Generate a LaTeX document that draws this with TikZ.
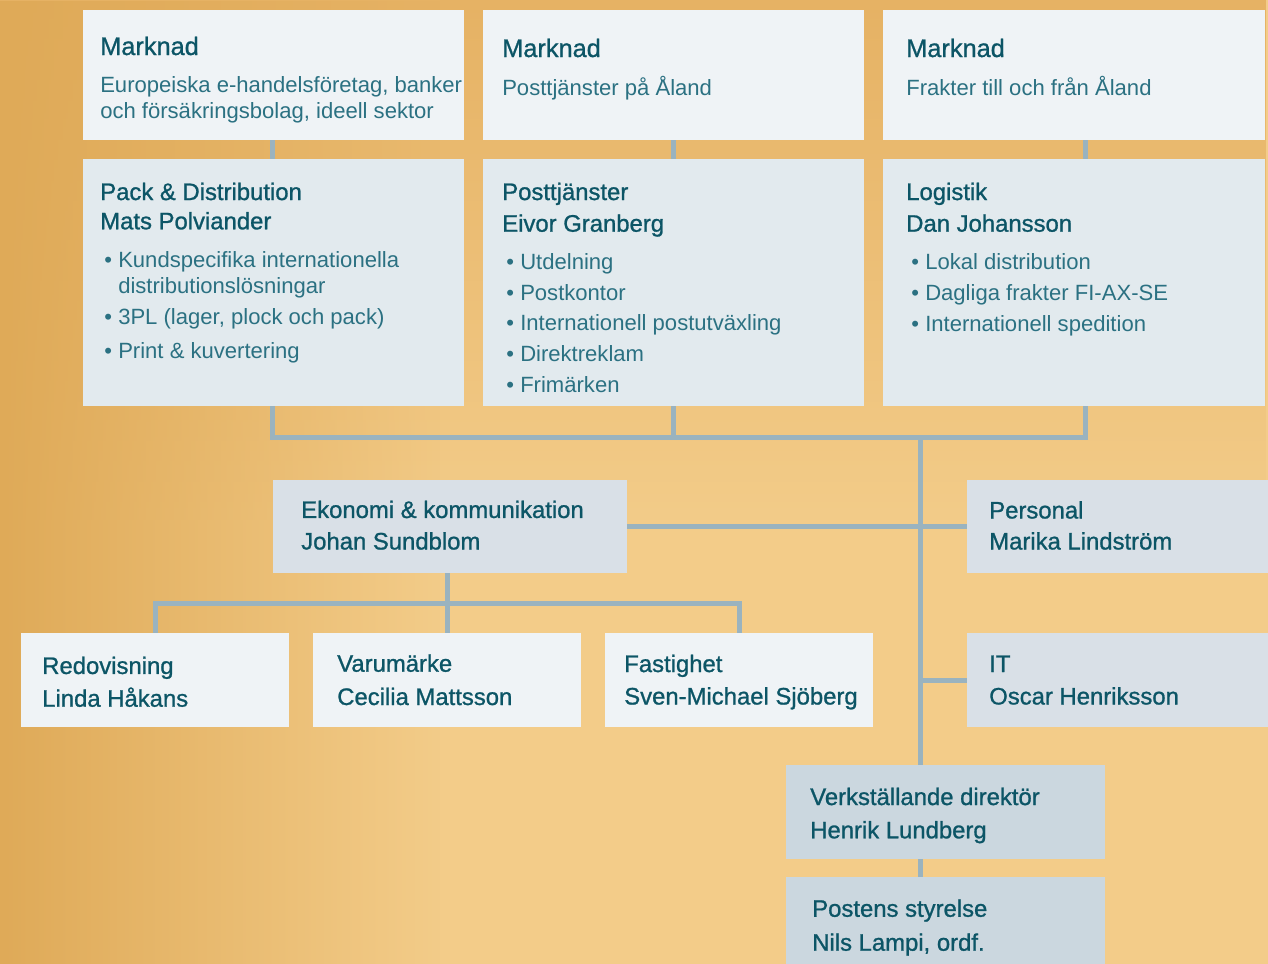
\documentclass[tikz,border=0pt]{standalone}
\usepackage{fontspec}
\usetikzlibrary{fadings}
\setmainfont{Liberation Sans}
\newfontfamily\hfont[FakeBold=1]{Liberation Sans}
\definecolor{bgA}{HTML}{DFAA58}
\definecolor{bgB}{HTML}{F3CC89}
\definecolor{bgT}{HTML}{E6B264}
\definecolor{boxA}{HTML}{EFF3F6}
\definecolor{boxB}{HTML}{E2EAEE}
\definecolor{boxC}{HTML}{D9E0E7}
\definecolor{boxD}{HTML}{CBD7DF}
\definecolor{linec}{HTML}{9AB3BF}
\definecolor{headc}{HTML}{0C5566}
\definecolor{bodyc}{HTML}{2B7182}
\newcommand\bl{\makebox[10.5pt][l]{•}}
\begin{document}
\begin{tikzpicture}[x=0.75pt,y=-0.75pt,
  box/.style={anchor=north west,inner sep=0pt,outer sep=0pt,draw=none},
  conn/.style={draw=linec,line width=3.75pt},
  hd/.style={anchor=base west,inner sep=0pt,align=left,text=headc,font=\hfont\fontsize{17.9pt}{23.25pt}\selectfont},
  hdbig/.style={anchor=base west,inner sep=0pt,align=left,text=headc,font=\hfont\fontsize{19pt}{23pt}\selectfont},
  bd/.style={anchor=base west,inner sep=0pt,align=left,text=bodyc,font=\fontsize{16.55pt}{19.5pt}\selectfont}]
\useasboundingbox (0,0) rectangle (1268,964);
\fill[bgB] (0,0) rectangle (1268,964);
\fill[bgT,path fading=south] (0,0) rectangle (1268,520);
\fill[bgA,path fading=east] (0,0) rectangle (440,964);

% boxes
\node[box,fill=boxA,minimum width=381*0.75pt,minimum height=130*0.75pt] (m1) at (83,10) {};
\node[box,fill=boxA,minimum width=381*0.75pt,minimum height=130*0.75pt] (m2) at (483,10) {};
\node[box,fill=boxA,minimum width=382*0.75pt,minimum height=130*0.75pt] (m3) at (883,10) {};
\node[box,fill=boxB,minimum width=381*0.75pt,minimum height=247*0.75pt] (p1) at (83,159) {};
\node[box,fill=boxB,minimum width=381*0.75pt,minimum height=247*0.75pt] (p2) at (483,159) {};
\node[box,fill=boxB,minimum width=382*0.75pt,minimum height=247*0.75pt] (p3) at (883,159) {};
\node[box,fill=boxC,minimum width=354*0.75pt,minimum height=93*0.75pt] (ek) at (273,480) {};
\node[box,fill=boxC,minimum width=301*0.75pt,minimum height=93*0.75pt] (pe) at (967,480) {};
\node[box,fill=boxA,minimum width=268*0.75pt,minimum height=94*0.75pt] (r1) at (21,633) {};
\node[box,fill=boxA,minimum width=268*0.75pt,minimum height=94*0.75pt] (r2) at (313,633) {};
\node[box,fill=boxA,minimum width=268*0.75pt,minimum height=94*0.75pt] (r3) at (605,633) {};
\node[box,fill=boxC,minimum width=301*0.75pt,minimum height=94*0.75pt] (it) at (967,633) {};
\node[box,fill=boxD,minimum width=319*0.75pt,minimum height=94*0.75pt] (vd) at (786,765) {};
\node[box,fill=boxD,minimum width=319*0.75pt,minimum height=96*0.75pt] (st) at (786,877) {};

% connectors
\coordinate (bR) at (1085,437);
\coordinate (bT) at (920,437);
\coordinate (eb) at (447,603);
\draw[conn] (m1.south -| 272,0) -- (p1.north -| 272,0);
\draw[conn] (m2.south) -- (p2.north);
\draw[conn] (m3.south -| bR) -- (p3.north -| bR);
\draw[conn] (p1.south -| 272,0) |- (bR) -- (bR |- p3.south);
\draw[conn] (p2.south) -- (p2.south |- bR);
\draw[conn] (bT) -- (bT |- vd.north);
\draw[conn] (ek.east) -- (pe.west);
\draw[conn] (bT |- it.west) -- (it.west);
\draw[conn] (vd.south -| bT) -- (st.north -| bT);
\draw[conn] (r2.north |- ek.south) -- (r2.north);
\draw[conn] (r1.north) |- (eb) -| (r3.north);

% boxes again over connector ends
\foreach \n/\c in {m1/boxA,m2/boxA,m3/boxA,p1/boxB,p2/boxB,p3/boxB,ek/boxC,pe/boxC,r1/boxA,r2/boxA,r3/boxA,it/boxC,vd/boxD,st/boxD}
  \fill[\c] (\n.north west) rectangle (\n.south east);

% texts (anchor = baseline of the last line)
\node[hdbig] (m1h) at (100,55) {Marknad};
\node[bd] (m1b) at (100,118.3) {Europeiska e-handelsföretag, banker\\och försäkringsbolag, ideell sektor};
\node[hdbig] (m2h) at (502,57) {Marknad};
\node[bd] (m2b) at (502,95) {Posttjänster på Åland};
\node[hdbig] (m3h) at (906,57) {Marknad};
\node[bd] (m3b) at (906,95) {Frakter till och från Åland};

\node[hd] (p1h) at (100,229.3) {Pack \& Distribution\\[-1.3pt]Mats Polviander};
\node[bd] (p1b) at (104,358.3) {\bl Kundspecifika internationella\\\hspace*{10.5pt}distributionslösningar\\[4.3pt]\bl 3PL (lager, plock och pack)\\[5.5pt]\bl Print \& kuvertering};
\node[hd] (p2h) at (502,231.7) {Posttjänster\\[0.5pt]Eivor Granberg};
\node[bd] (p2b) at (506,392) {\bl Utdelning\\[3.4pt]\bl Postkontor\\[3.4pt]\bl Internationell postutväxling\\[3.4pt]\bl Direktreklam\\[3.4pt]\bl Frimärken};
\node[hd] (p3h) at (906,231.7) {Logistik\\[0.5pt]Dan Johansson};
\node[bd] (p3b) at (911,331) {\bl Lokal distribution\\[3.4pt]\bl Dagliga frakter FI-AX-SE\\[3.4pt]\bl Internationell spedition};

\node[hd] (ekt) at (301,549.5) {Ekonomi \& kommunikation\\[0.4pt]Johan Sundblom};
\node[hd] (pet) at (989,549.5) {Personal\\Marika Lindström};
\node[hd] (r1t) at (42,706.7) {Redovisning\\[1.3pt]Linda Håkans};
\node[hd] (r2t) at (337,705) {Varumärke\\[1.7pt]Cecilia Mattsson};
\node[hd] (r3t) at (624,704.5) {Fastighet\\[1.1pt]Sven-Michael Sjöberg};
\node[hd] (itt) at (989,704.5) {IT\\[1.1pt]Oscar Henriksson};
\node[hd] (vdt) at (810,838.3) {Verkställande direktör\\[1.7pt]Henrik Lundberg};
\node[hd] (stt) at (812,950.7) {Postens styrelse\\[2.2pt]Nils Lampi, ordf.};
\end{tikzpicture}
\end{document}
